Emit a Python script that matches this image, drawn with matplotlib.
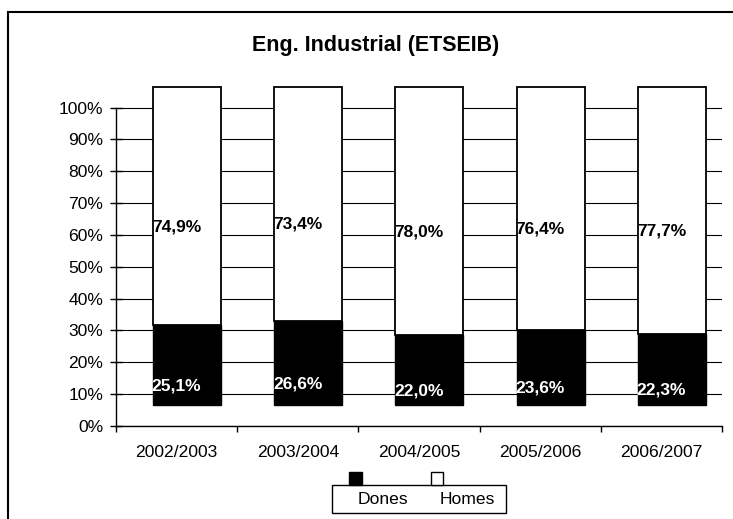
import numpy as np
import matplotlib.pyplot as plt
from matplotlib.patches import Rectangle

plt.rcParams['font.family'] = ['Liberation Sans', 'DejaVu Sans']

# dades
cursos = ['2002/2003', '2003/2004', '2004/2005', '2005/2006', '2006/2007']
dones = [25.1, 26.6, 22.0, 23.6, 22.3]
homes = [74.9, 73.4, 78.0, 76.4, 77.7]

W, H = 733, 519
fig = plt.figure(figsize=(W / 100, H / 100), dpi=100)

def px(x, y):
    # pixels de la imatge -> coordenades de la figura
    return x / W, 1 - y / H

ax = fig.add_axes([116 / W, 1 - 426 / H, (722 - 116) / W, 107 * 3.185 / H])

x = np.arange(len(cursos))
prof = 6.5   # desplaçament vertical (efecte 3D)
dx = 0.086   # desplaçament horitzontal
amplada = 0.56

ax.bar(x + dx, dones, amplada, bottom=prof, color='black',
       edgecolor='black', linewidth=1, zorder=3)
ax.bar(x + dx, homes, amplada, bottom=prof + np.array(dones), color='white',
       edgecolor='black', linewidth=1.3, zorder=3)

for i in range(len(cursos)):
    ax.text(x[i], dones[i] / 2, f'{dones[i]:.1f}%'.replace('.', ','),
            color='white', weight='bold', ha='center', va='center',
            fontsize=12.5, zorder=4)
    ax.text(x[i], dones[i] + homes[i] / 2, f'{homes[i]:.1f}%'.replace('.', ','),
            color='black', weight='bold', ha='center', va='center',
            fontsize=12.5, zorder=4)

ax.set_xlim(-0.5, len(cursos) - 0.5)
ax.set_ylim(0, 107)
ax.set_yticks(np.arange(0, 101, 10))
ax.set_yticklabels([f'{v}%' for v in range(0, 101, 10)])
ax.tick_params(axis='y', direction='inout', length=8.6, width=1,
               labelsize=12.6, pad=5)

ax.set_xticks(np.arange(-0.5, len(cursos), 1))
ax.set_xticklabels([])
ax.set_xticks(x, minor=True)
ax.set_xticklabels(cursos, minor=True)
ax.tick_params(axis='x', which='major', direction='out', length=4.3, width=1)
ax.tick_params(axis='x', which='minor', length=0, labelsize=12.6, pad=14)

ax.yaxis.grid(True, color='black', linewidth=0.8)
ax.set_axisbelow(True)
for s in ['top', 'right']:
    ax.spines[s].set_visible(False)
ax.spines['left'].set_bounds(0, 100)
ax.spines['left'].set_linewidth(1)
ax.spines['bottom'].set_linewidth(1)

# marc exterior
fig.patches.append(Rectangle(px(8, 600), 1.2, (600 - 12) / H, fill=False,
                             edgecolor='black', linewidth=1.5,
                             transform=fig.transFigure))

# títol
fig.text(*px(376, 45), 'Eng. Industrial (ETSEIB)', ha='center', va='center',
         fontsize=15.5, weight='bold')

# llegenda
fig.patches.append(Rectangle(px(332, 513), 174 / W, 28 / H, fill=False,
                             edgecolor='black', linewidth=1,
                             transform=fig.transFigure))
fig.patches.append(Rectangle(px(349, 485), 13 / W, 13 / H, facecolor='black',
                             edgecolor='black', linewidth=1,
                             transform=fig.transFigure))
fig.patches.append(Rectangle(px(431, 485), 12 / W, 13 / H, facecolor='white',
                             edgecolor='black', linewidth=1,
                             transform=fig.transFigure))
fig.text(*px(383, 500), 'Dones', ha='center', va='center', fontsize=12.6)
fig.text(*px(467, 500), 'Homes', ha='center', va='center', fontsize=12.6)

fig.savefig('out.png', dpi=100)
